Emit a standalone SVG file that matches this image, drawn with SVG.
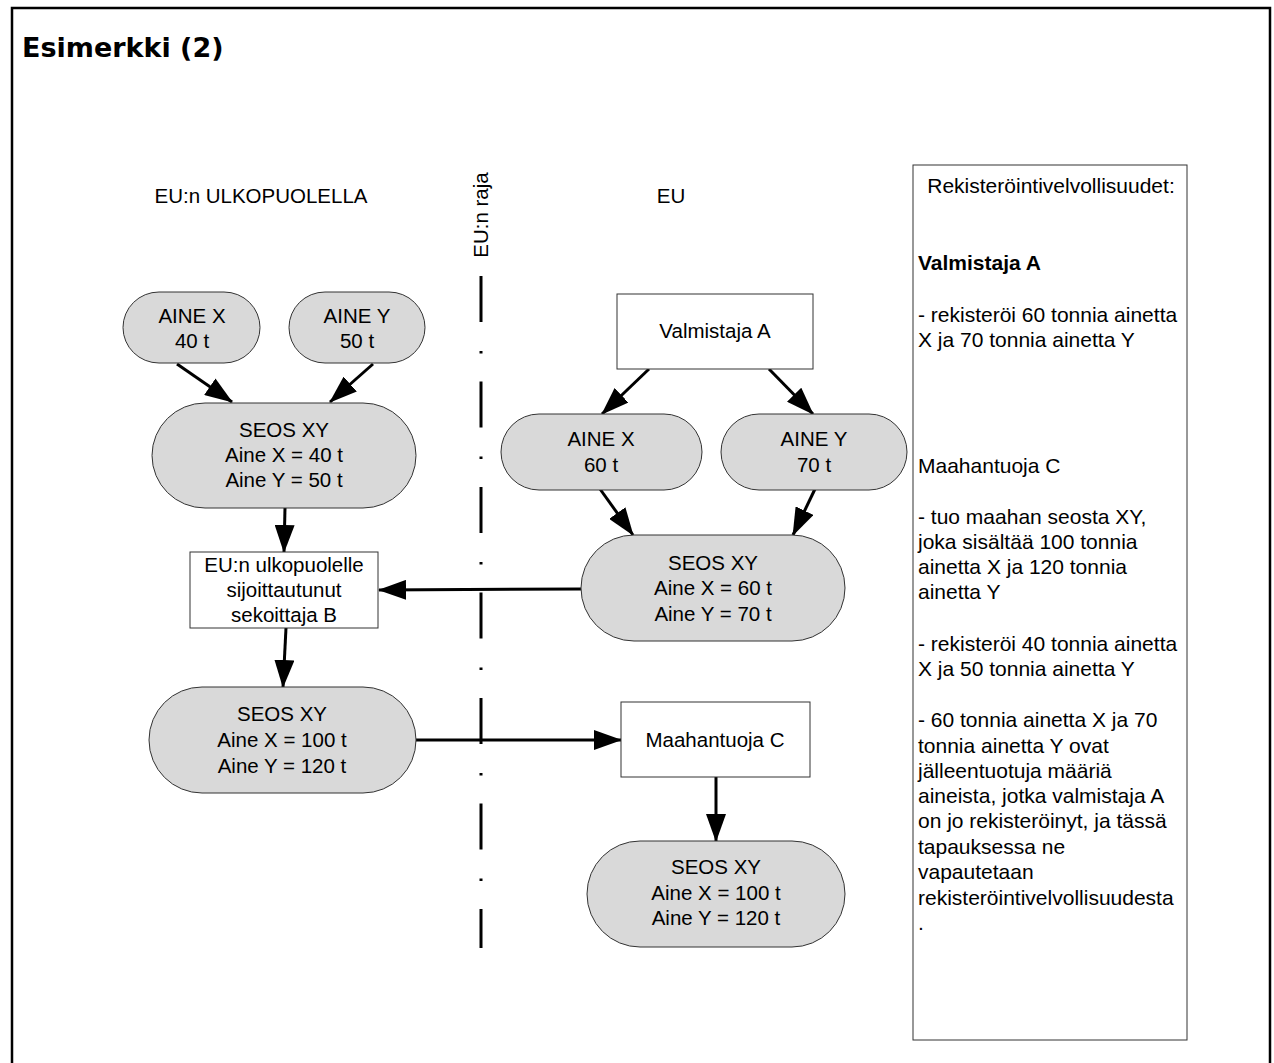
<svg xmlns="http://www.w3.org/2000/svg" width="1274" height="1063" viewBox="0 0 1274 1063">
  <defs>
    <marker id="arrow" markerUnits="userSpaceOnUse" markerWidth="28" markerHeight="20" refX="27" refY="10" orient="auto">
      <path d="M0,0 L28,10 L0,20 z" fill="#000"/>
    </marker>
    <style>
      text { font-family: "Liberation Sans", Arial, sans-serif; font-size: 20.5px; fill: #000; }
      .title { font-family: "DejaVu Sans", Verdana, sans-serif; font-weight: bold; font-size: 27px; }
      .c { text-anchor: middle; }
      .pill { fill: #d9d9d9; stroke: #333; stroke-width: 1; }
      .box { fill: #fff; stroke: #333; stroke-width: 1; }
      .edge { stroke: #000; stroke-width: 3; fill: none; marker-end: url(#arrow); }
      .panel text { font-size: 21px; }
    </style>
  </defs>

  <rect width="1274" height="1063" fill="#fff"/>

  <!-- outer frame (open at the bottom) -->
  <path d="M12,1063 V8 H1270 V1063" fill="none" stroke="#000" stroke-width="2.5"/>

  <text class="title" x="22" y="57">Esimerkki (2)</text>

  <!-- region labels -->
  <text class="c" x="261" y="203" font-size="21.5">EU:n ULKOPUOLELLA</text>
  <text class="c" x="671" y="203" font-size="21.5">EU</text>

  <!-- border line -->
  <g id="border">
    <text class="c" transform="translate(488,215) rotate(-90)" font-size="21">EU:n raja</text>
    <line x1="481" y1="276" x2="481" y2="948" stroke="#000" stroke-width="3" stroke-dasharray="46 29 2.5 28"/>
  </g>

  <!-- connectors -->
  <g id="connectors">
    <line class="edge" x1="177" y1="364" x2="232" y2="402"/>
    <line class="edge" x1="373" y1="364" x2="330" y2="402"/>
    <line class="edge" x1="285" y1="508" x2="284" y2="552"/>
    <line class="edge" x1="581" y1="589" x2="379" y2="590"/>
    <line class="edge" x1="286" y1="628" x2="283" y2="687"/>
    <line class="edge" x1="416" y1="740" x2="621" y2="740"/>
    <line class="edge" x1="649" y1="369" x2="602" y2="414"/>
    <line class="edge" x1="769" y1="369" x2="813" y2="414"/>
    <line class="edge" x1="600" y1="489" x2="633" y2="535"/>
    <line class="edge" x1="815" y1="489" x2="793" y2="535"/>
    <line class="edge" x1="716" y1="777" x2="716" y2="841"/>
  </g>

  <!-- outside-EU nodes -->
  <g id="aine-x-out">
    <rect class="pill" x="123" y="292" width="137" height="71" rx="36" ry="35.5"/>
    <text class="c" x="192" y="323">AINE X</text>
    <text class="c" x="192" y="348">40 t</text>
  </g>
  <g id="aine-y-out">
    <rect class="pill" x="289" y="292" width="136" height="71" rx="36" ry="35.5"/>
    <text class="c" x="357" y="323">AINE Y</text>
    <text class="c" x="357" y="348">50 t</text>
  </g>
  <g id="seos-out-1">
    <rect class="pill" x="152" y="403" width="264" height="105" rx="53" ry="52.5"/>
    <text class="c" x="284" y="437">SEOS XY</text>
    <text class="c" x="284" y="462">Aine X = 40 t</text>
    <text class="c" x="284" y="487">Aine Y = 50 t</text>
  </g>
  <g id="sekoittaja-b">
    <rect class="box" x="190" y="552" width="188" height="76"/>
    <text class="c" x="284" y="572">EU:n ulkopuolelle</text>
    <text class="c" x="284" y="597">sijoittautunut</text>
    <text class="c" x="284" y="622">sekoittaja B</text>
  </g>
  <g id="seos-out-2">
    <rect class="pill" x="149" y="687" width="267" height="106" rx="53" ry="53"/>
    <text class="c" x="282" y="721">SEOS XY</text>
    <text class="c" x="282" y="747">Aine X = 100 t</text>
    <text class="c" x="282" y="773">Aine Y = 120 t</text>
  </g>

  <!-- EU nodes -->
  <g id="valmistaja-a">
    <rect class="box" x="617" y="294" width="196" height="75"/>
    <text class="c" x="715" y="338">Valmistaja A</text>
  </g>
  <g id="aine-x-eu">
    <rect class="pill" x="501" y="414" width="201" height="76" rx="38" ry="38"/>
    <text class="c" x="601" y="446">AINE X</text>
    <text class="c" x="601" y="472">60 t</text>
  </g>
  <g id="aine-y-eu">
    <rect class="pill" x="721" y="414" width="186" height="76" rx="38" ry="38"/>
    <text class="c" x="814" y="446">AINE Y</text>
    <text class="c" x="814" y="472">70 t</text>
  </g>
  <g id="seos-eu-1">
    <rect class="pill" x="581" y="535" width="264" height="106" rx="53" ry="53"/>
    <text class="c" x="713" y="570">SEOS XY</text>
    <text class="c" x="713" y="595">Aine X = 60 t</text>
    <text class="c" x="713" y="621">Aine Y = 70 t</text>
  </g>
  <g id="maahantuoja-c">
    <rect class="box" x="621" y="702" width="189" height="75"/>
    <text class="c" x="715" y="747">Maahantuoja C</text>
  </g>
  <g id="seos-eu-2">
    <rect class="pill" x="587" y="841" width="258" height="106" rx="53" ry="53"/>
    <text class="c" x="716" y="874">SEOS XY</text>
    <text class="c" x="716" y="900">Aine X = 100 t</text>
    <text class="c" x="716" y="925">Aine Y = 120 t</text>
  </g>

  <!-- obligations panel -->
  <g id="obligations" class="panel">
    <rect class="box" x="913" y="165" width="274" height="875"/>
    <text class="c" x="1051" y="193">Rekisteröintivelvollisuudet:</text>
    <text x="918" y="270" font-weight="bold">Valmistaja A</text>
    <text x="918" y="322">- rekisteröi 60 tonnia ainetta</text>
    <text x="918" y="347">X ja 70 tonnia ainetta Y</text>
    <text x="918" y="473">Maahantuoja C</text>
    <text x="918" y="524">- tuo maahan seosta XY,</text>
    <text x="918" y="549">joka sisältää 100 tonnia</text>
    <text x="918" y="574">ainetta X ja 120 tonnia</text>
    <text x="918" y="599">ainetta Y</text>
    <text x="918" y="651">- rekisteröi 40 tonnia ainetta</text>
    <text x="918" y="676">X ja 50 tonnia ainetta Y</text>
    <text x="918" y="727">- 60 tonnia ainetta X ja 70</text>
    <text x="918" y="753">tonnia ainetta Y ovat</text>
    <text x="918" y="778">jälleentuotuja määriä</text>
    <text x="918" y="803">aineista, jotka valmistaja A</text>
    <text x="918" y="828">on jo rekisteröinyt, ja tässä</text>
    <text x="918" y="854">tapauksessa ne</text>
    <text x="918" y="879">vapautetaan</text>
    <text x="918" y="905">rekisteröintivelvollisuudesta</text>
    <text x="918" y="930">.</text>
  </g>
</svg>
